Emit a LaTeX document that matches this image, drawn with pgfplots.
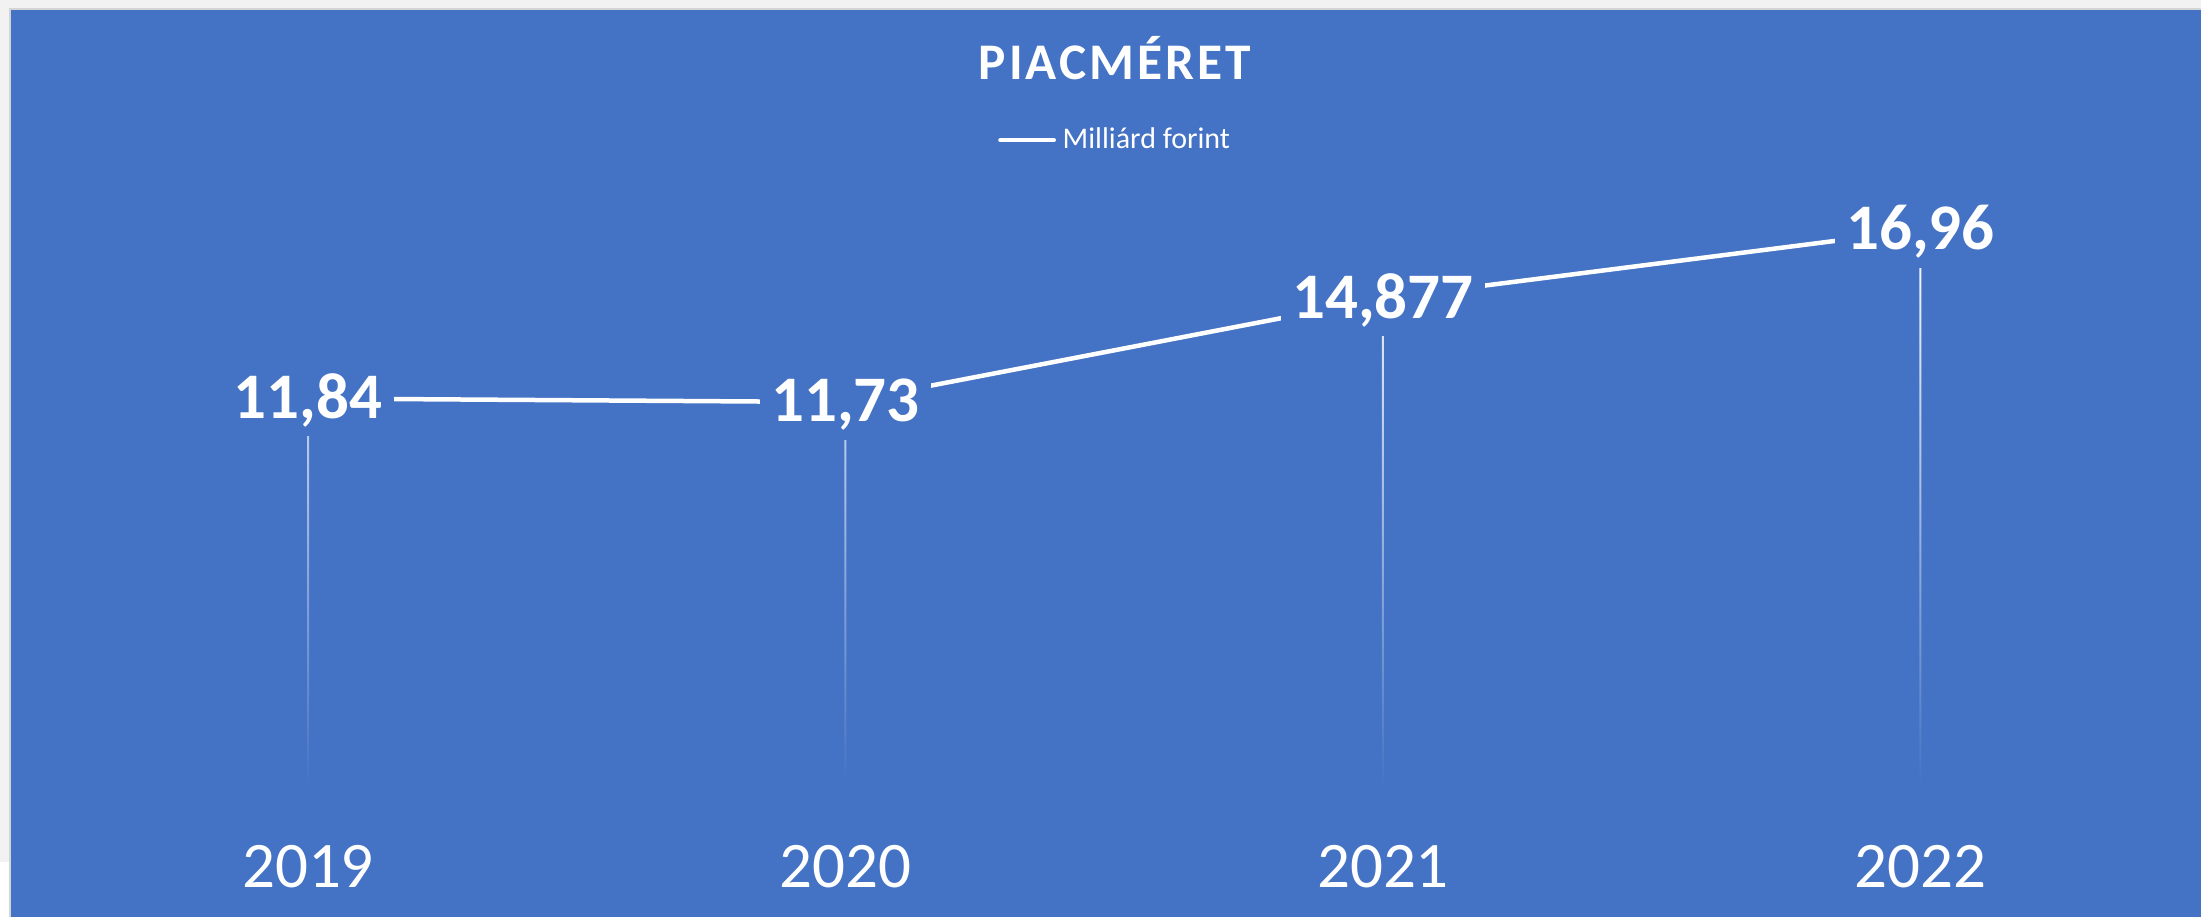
\documentclass[border=0pt]{standalone}
\usepackage{pgfplots}
\usepackage{pgfplotstable}
\pgfplotsset{compat=1.18}
\usepackage{fontspec}
\setmainfont{Carlito}
\definecolor{bgblue}{HTML}{4472C4}
\definecolor{outgray}{HTML}{F2F2F2}
\definecolor{bordergray}{HTML}{D4D4D4}
\pgfplotstableread{
x y
0 11.84
1 11.73
2 14.877
3 16.96
}\piac
\begin{document}
\begin{tikzpicture}
\begin{scope}[shift={(0pt,275.1pt)},x=0.3pt,y=-0.3pt]
\useasboundingbox (0,0) rectangle (2201,917);
\fill[outgray] (0,0) rectangle (2201,917);
\fill[white] (0,862) rectangle (9,917);
\fill[bordergray] (9,7.5) rectangle (2201,917);
\fill[bgblue] (11,9.5) rectangle (2201,917);
\end{scope}
\begin{axis}[
  at={(92.4pt,38.7pt)}, anchor=south west,
  scale only axis, width=483.75pt, height=177.66pt,
  xmin=0, xmax=3, ymin=0, ymax=18,
  enlargelimits=false, clip=false,
  axis line style={draw=none},
  major tick length=0pt,
  ytick=\empty,
  xtick={0,1,2,3},
  xticklabels={2019,2020,2021,2022},
  xticklabel style={anchor=base, yshift=-29.9pt, text=white, font=\fontsize{19.5}{23}\selectfont},
  /pgf/number format/assume math mode=true,
  title={\addfontfeature{LetterSpace=6}PIACMÉRET},
  title style={at={(0.5005,1.1625)}, anchor=base, text=white, font=\fontsize{15.4}{18}\selectfont\bfseries},
  legend style={at={(0.502,1.094)}, anchor=center, draw=none, fill=none, text=white,
    font=\fontsize{9}{11}\selectfont, inner sep=0pt},
  legend image code/.code={\draw[white, line width=1.35pt, line cap=round] (0pt,0pt) -- (16pt,0pt);},
]
\addplot[ybar, bar width=0.6pt, draw=none, top color=white, bottom color=bgblue, forget plot] table[x=x,y=y] {\piac};
\addplot[white, line width=1.35pt, mark=none,
  nodes near coords={\pgfmathprintnumber[use comma,fixed,precision=3]{\pgfplotspointmeta}},
  every node near coord/.append style={anchor=center, fill=bgblue, text=white,
    font=\fontsize{19.5}{23}\selectfont\bfseries, inner xsep=3.5pt, inner ysep=0pt,
    text height=1.185em, text depth=0.535em, yshift=-2.7pt},
] table[x=x,y=y] {\piac};
\addlegendentry{Milliárd forint}
\end{axis}
\end{tikzpicture}
\end{document}
